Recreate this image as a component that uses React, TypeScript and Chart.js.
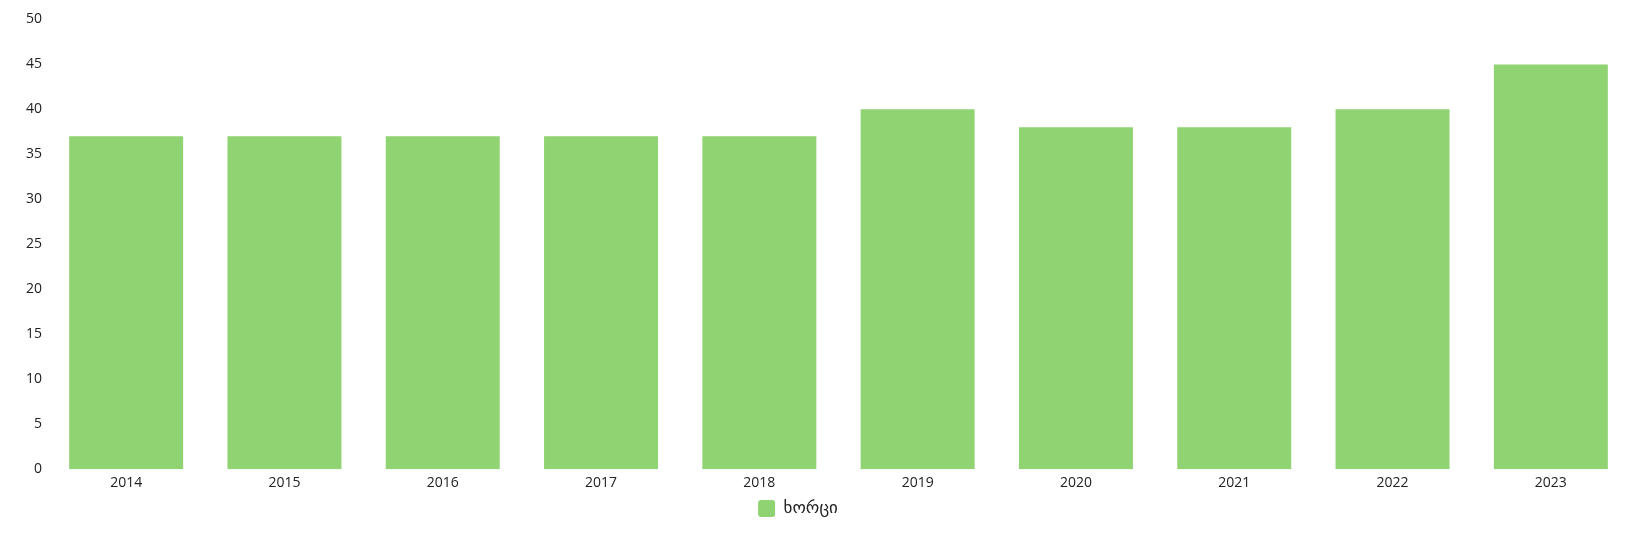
import React, { useEffect, useRef } from "react";
import { Chart, registerables } from "chart.js";

Chart.register(...registerables);

const categories = ["2014", "2015", "2016", "2017", "2018", "2019", "2020", "2021", "2022", "2023"];
const meatValues = [37, 37, 37, 37, 37, 40, 38, 38, 40, 45];
const seriesLabel = "ხორცი";

const legendShift = {
  id: "legendShift",
  afterLayout(chart: any) {
    const l = chart.legend;
    if (l) {
      l.left -= 21;
      l.right -= 21;
    }
  },
};

export default function App() {
  const ref = useRef<HTMLCanvasElement | null>(null);
  useEffect(() => {
    if (!ref.current) return;
    const font = { family: "'Open Sans', 'DejaVu Sans', sans-serif", size: 14 };
    const chart = new Chart(ref.current, {
      type: "bar",
      data: {
        labels: categories,
        datasets: [
          {
            label: seriesLabel,
            data: meatValues,
            backgroundColor: "#8fd372",
            borderWidth: 0,
            barPercentage: 0.8,
            categoryPercentage: 0.9,
          },
        ],
      },
      plugins: [legendShift],
      options: {
        animation: false,
        responsive: true,
        maintainAspectRatio: false,
        layout: { padding: { top: 0, right: 11, left: 0, bottom: 4 } },
        plugins: {
          tooltip: { enabled: false },
          legend: {
            position: "bottom",
            labels: {
              font: { family: "'DejaVu Sans', sans-serif", size: 17 },
              color: "#222",
              boxWidth: 17,
              boxHeight: 17,
              useBorderRadius: true,
              borderRadius: 3,
              padding: 12,
            },
          },
        },
        scales: {
          x: {
            grid: { display: false },
            border: { display: false },
            ticks: { font, color: "#222", padding: -3 },
          },
          y: {
            min: 0,
            max: 50,
            grid: { display: false, drawTicks: false },
            border: { display: false },
            ticks: { font, color: "#222", stepSize: 5, padding: 5 },
            afterFit: (scale: any) => {
              scale.width = 39;
            },
          },
        },
      },
    });
    return () => chart.destroy();
  }, []);
  return (
    <div style={{ width: "100%", height: 525, marginTop: -2, position: "relative" }}>
      <canvas ref={ref} />
    </div>
  );
}
